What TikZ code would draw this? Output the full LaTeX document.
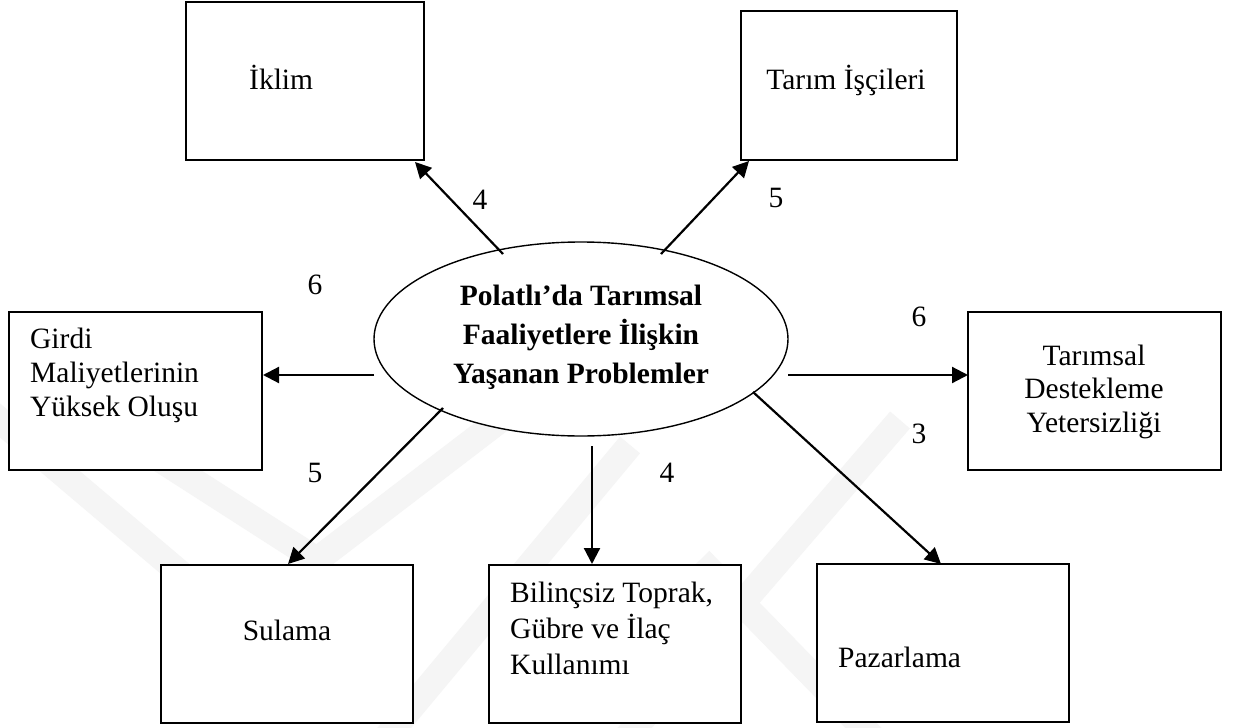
\documentclass[tikz,border=0pt]{standalone}
\usepackage{fontspec}
\setmainfont{Liberation Serif}
\usetikzlibrary{arrows.meta,shapes.geometric}
\begin{document}
\begin{tikzpicture}[x=1pt,y=-1pt,
  box/.style={draw, line width=1.9pt, fill=white, inner sep=0pt},
  txt/.style={font=\fontsize{29.5}{34}\selectfont, inner sep=0pt},
  etxt/.style={font=\fontsize{29.5}{34}\selectfont\bfseries, inner sep=0pt, anchor=base},
  num/.style={font=\fontsize{29.5}{34}\selectfont, inner sep=0pt, anchor=base},
  conn/.style={line width=2.2pt, -{Triangle[length=16pt,width=16pt]}},
  wm/.style={line width=26pt, draw=gray!8, line join=miter}]
\useasboundingbox (0,0) rectangle (1235,728);
\fill[white] (0,0) rectangle (1235,728);
% faint watermark
\begin{scope}
\clip (0,0) rectangle (1235,728);
\draw[wm] (-30,395) -- (200,590);
\draw[wm] (130,440) -- (317,560) -- (500,420);
\draw[wm] (380,745) -- (630,445);
\draw[wm] (620,745) -- (900,420);
\draw[wm] (700,560) -- (880,745);
\end{scope}
% boxes
\node[box, minimum width=238pt, minimum height=158pt] (iklim) at (305,81) {};
\node[box, minimum width=216pt, minimum height=149pt] (tarim) at (849,85.5) {};
\node[box, minimum width=253pt, minimum height=158pt] (girdi) at (135.5,391) {};
\node[box, minimum width=253pt, minimum height=158pt] (destek) at (1094.5,391) {};
\node[box, minimum width=252pt, minimum height=158pt] (sulama) at (287,644) {};
\node[box, minimum width=252pt, minimum height=158pt] (bilinc) at (615,644) {};
\node[box, minimum width=252pt, minimum height=158pt] (pazar) at (943,643) {};
\node[draw, ellipse, line width=1.4pt, fill=white, inner sep=0pt,
      minimum width=414pt, minimum height=194pt] (prob) at (581,339) {};
% texts
\node[txt, anchor=base west] (tiklim) at (249,89) {İklim};
\node[txt, anchor=base] (ttarim) at (846,89) {Tarım İşçileri};
\node[txt, anchor=base west] (g1) at (30,348) {Girdi};
\node[txt, anchor=base west] (g2) at (30,382) {Maliyetlerinin};
\node[txt, anchor=base west] (g3) at (30,416) {Yüksek Oluşu};
\node[txt, anchor=base] (d1) at (1094,365) {Tarımsal};
\node[txt, anchor=base] (d2) at (1094,398) {Destekleme};
\node[txt, anchor=base] (d3) at (1094,432) {Yetersizliği};
\node[txt, anchor=base] (s1) at (287,640) {Sulama};
\node[txt, anchor=base west] (b1) at (510,602) {Bilinçsiz Toprak,};
\node[txt, anchor=base west] (b2) at (510,638) {Gübre ve İlaç};
\node[txt, anchor=base west] (b3) at (510,674) {Kullanımı};
\node[txt, anchor=base west] (p1) at (838,667) {Pazarlama};
\node[etxt] (e1) at (581,305) {Polatlı’da Tarımsal};
\node[etxt] (e2) at (581,344) {Faaliyetlere İlişkin};
\node[etxt] (e3) at (581,383) {Yaşanan Problemler};
% connectors
\coordinate (t1) at (503,254); \coordinate (h1) at (415,162);
\coordinate (t2) at (661,254); \coordinate (h2) at (749,161);
\coordinate (t3) at (374,375); \coordinate (h3) at (263,375);
\coordinate (t4) at (788,375); \coordinate (h4) at (968,375);
\coordinate (t5) at (443,408); \coordinate (h5) at (288,564);
\coordinate (t6) at (592,446); \coordinate (h6) at (592,564);
\coordinate (t7) at (753,392); \coordinate (h7) at (941,564);
\draw[conn] (t1) -- (h1);
\draw[conn] (t2) -- (h2);
\draw[conn] (t3) -- (h3);
\draw[conn] (t4) -- (h4);
\draw[conn] (t5) -- (h5);
\draw[conn] (t6) -- (h6);
\draw[conn] (t7) -- (h7);
% numbers
\node[fill=white, inner sep=0pt, minimum width=45pt, minimum height=51pt] (n4bg) at (669.5,482) {};
\node[num] (n1) at (480,209) {4};
\node[num] (n2) at (776,207) {5};
\node[num] (n3) at (315,294) {6};
\node[num] (n4) at (919,326) {6};
\node[num] (n5) at (315,482) {5};
\node[num] (n6) at (667,482) {4};
\node[num] (n7) at (919,443) {3};
\end{tikzpicture}
\end{document}
